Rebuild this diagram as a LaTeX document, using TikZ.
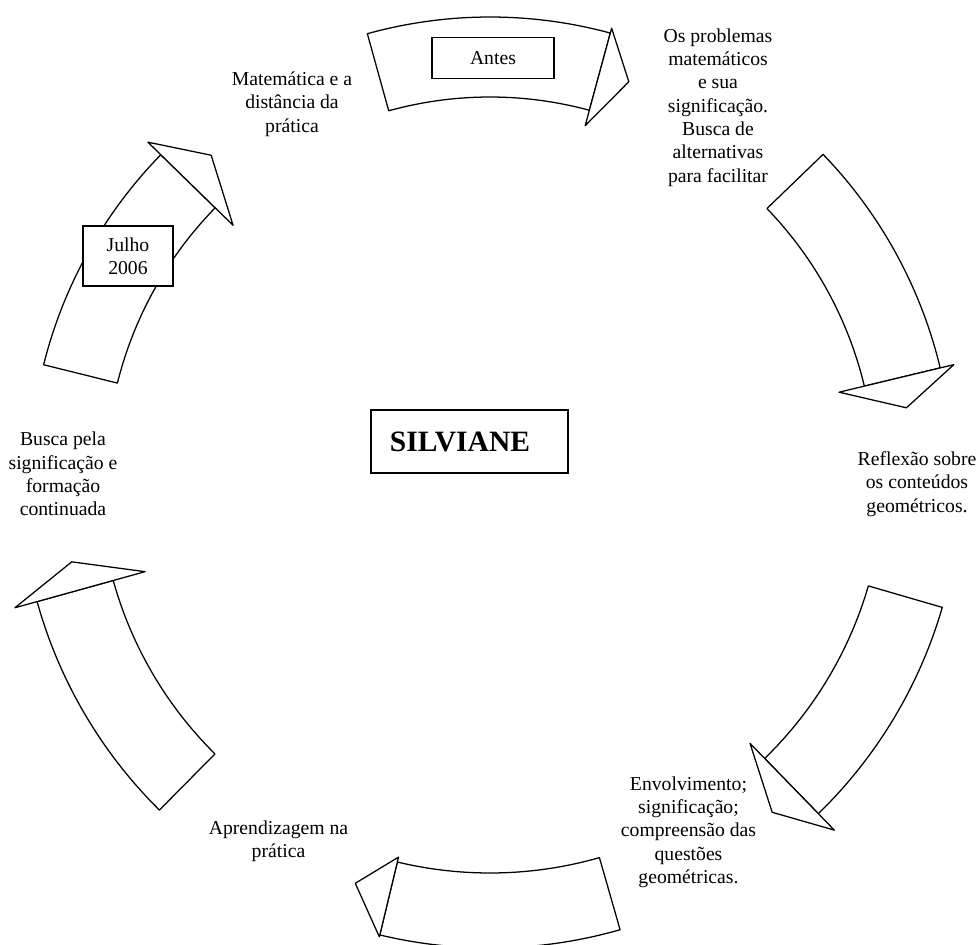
\documentclass[tikz,border=0pt]{standalone}
\usepackage{fontspec}
\setmainfont{Liberation Serif}
\tikzset{
    bandline/.style={draw, fill=white, line width=0.9pt, line join=round},
    note/.style={align=center, font=\fontsize{14}{16.6}\selectfont, inner sep=0pt},
    datebox/.style={rectangle, draw, line width=1.2pt, fill=white, align=center, font=\fontsize{14}{16.6}\selectfont},
    titlebox/.style={rectangle, draw, line width=1.4pt, fill=white, align=left, font=\bfseries\fontsize{21}{24}\selectfont}
}

\begin{document}
\begin{tikzpicture}[x=0.025cm, y=0.025cm]
    \useasboundingbox (-490,-469) rectangle (489,476);

    % Six curved arrows going round clockwise
    % (start / end / tip angle, inner / outer radius, head inner / tip / outer radius)
    \foreach \s/\e/\t/\ri/\ro/\hi/\ht/\ho in {166/135.7/131/384/460/359/425/478,
        105.5/74.8/70.6/379/459/363/418/464,
        44/13.5/9.3/385/463/359/422/477,
        -16.2/-45.8/-50/394/471/373/439/494,
        -74/-103.5/-108.3/397/472/392/429/474,
        -134.7/-164.5/-168.4/391/470/358/427/493} {
        \draw[bandline] (\s:\ri) arc[start angle=\s, end angle=\e, radius=\ri]
            -- (\e:\ro) arc[start angle=\e, end angle=\s, radius=\ro] -- cycle;
        \draw[bandline] (\e:\hi) -- (\t:\ht) -- (\e:\ho) -- cycle;
    }

    % Boxes on the arrows and in the middle
    \node[datebox, minimum width=3.05cm, minimum height=1.03cm] (antes) at (3,418) {Antes};
    \node[datebox, minimum width=2.25cm, minimum height=1.5cm] (julho) at (-362,220) {Julho\\2006};
    \node[titlebox, text width=3.975cm, inner xsep=0.475cm, minimum height=1.575cm] (silviane) at (-20.5,34.5) {SILVIANE};

    % Texts between the arrows
    \node[note] (matematica) at (-198,372) {Matemática e a\\distância da\\prática};
    \node[note] (problemas) at (228,368.5) {Os problemas\\matemáticos\\e sua\\significação.\\Busca de\\alternativas\\para facilitar};
    \node[note] (reflexao) at (427,-8) {Reflexão sobre\\os conteúdos\\geométricos.};
    \node[note] (envolvimento) at (198.5,-356) {Envolvimento;\\significação;\\compreensão das\\questões\\geométricas.};
    \node[note] (aprendizagem) at (-211.5,-365.5) {Aprendizagem na\\prática};
    \node[note] (busca) at (-427,2) {Busca pela\\significação e\\formação\\continuada};
\end{tikzpicture}
\end{document}
